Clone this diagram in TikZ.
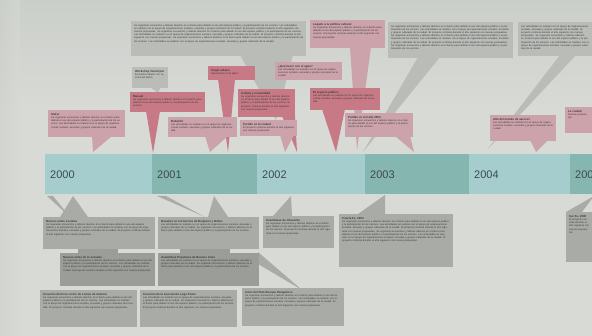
\documentclass[tikz,border=0pt]{standalone}
\usepackage{fontspec}
\setmainfont{Liberation Sans}
\definecolor{bgc}{HTML}{D8DAD6}
\definecolor{bgtop}{HTML}{CBCFCA}
\definecolor{redc}{HTML}{C77A86}
\definecolor{pinkc}{HTML}{CCA3AB}
\definecolor{grayc}{HTML}{BABCB8}
\definecolor{grayb}{HTML}{A9ABA7}
\definecolor{graybb}{HTML}{9B9D99}
\definecolor{tealA}{HTML}{A6CDCE}
\definecolor{tealB}{HTML}{86B6B0}
\definecolor{txtc}{HTML}{3A3A3A}
\definecolor{yearc}{HTML}{3C4B4C}
\newcommand\tinyf{\fontsize{2.5}{3.2}\selectfont}
\newcommand\ttl[1]{{\fontsize{2.9}{3.7}\selectfont\bfseries #1}\par}
\newcommand\tlbox[7]{%
  \node[fill=#6, inner sep=0, anchor=north west, minimum width=#4pt, minimum height=#5pt] (#1) at (#2,#3) {};
  \pgfmathsetlengthmacro\tlw{(#4-6)*1pt}%
  \node[anchor=north west, inner sep=0, text width=\tlw, align=left, font=\tinyf, text=txtc] (#1t) at ([xshift=3pt,yshift=-3pt]#1.north west) {#7};%
}
\newcommand\fa{Se organizan encuentros y talleres abiertos en el barrio para debatir el uso del espacio p\'ublico y la participaci\'on de los vecinos. }
\newcommand\fb{Las actividades se realizan con el apoyo de organizaciones sociales, escuelas y grupos culturales de la ciudad. }
\newcommand\fc{El proyecto contin\'ua durante el a\~no siguiente con nuevas propuestas. }
\begin{document}
\begin{tikzpicture}[x=1pt,y=-1pt]
\useasboundingbox (0,0) rectangle (592,336);
\clip (0,0) rectangle (592,336);
\shade[top color=bgtop, bottom color=bgc] (0,0) rectangle (592,110);
\fill[bgc] (0,110) rectangle (592,336);
\shade[left color=bgtop, right color=bgc, opacity=0.5] (0,0) rectangle (20,336);

% ---------- top pointers ----------
\fill[grayc] (240,55) -- (293,55) -- (276,120) -- cycle;
\fill[grayc] (418,57) -- (440,57) -- (363,152) -- cycle;
\fill[grayc] (560,55) -- (576,55) -- (487,150) -- cycle;
\fill[pinkc] (350,47) -- (371,47) -- (357,150) -- cycle;
\fill[pinkc] (92,136) -- (112,136) -- (93,152) -- cycle;
\fill[redc] (146,111) -- (160,111) -- (153,153) -- cycle;
\fill[redc] (218,79) -- (235,79) -- (228,152) -- cycle;
\fill[pinkc] (205,136) -- (228,136) -- (210,152) -- cycle;
\fill[redc] (282,116) -- (295,116) -- (297,152) -- cycle;
\fill[pinkc] (280,135) -- (294,135) -- (285,152) -- cycle;
\fill[redc] (322,109) -- (345,109) -- (336,152) -- cycle;
\fill[pinkc] (395,136) -- (410,136) -- (414,152) -- cycle;
\fill[pinkc] (530,140) -- (548,140) -- (536,152) -- cycle;
\fill[grayc] (150,87) -- (161,87) -- (158,93) -- cycle;

% ---------- top boxes ----------
\tlbox{t1}{131}{21}{175}{35}{grayc}{\fa\fb\fc\fa\fb\fc\fa\fb}
\tlbox{t2}{132}{67}{36}{21}{grayc}{\ttl{Workshop municipal}Encuentro abierto con vecinos del barrio.}
\tlbox{t3}{130}{92}{75}{20}{redc}{\ttl{Manual}\fa}
\tlbox{t4}{48}{110}{77}{27}{pinkc}{\ttl{Saber}\fa\fb}
\tlbox{t5}{208}{66}{47}{14}{redc}{\ttl{\'Angel urbano}Intervenci\'on en la plaza.}
\tlbox{t6}{275}{62}{67}{18}{pinkc}{\ttl{?`Qu\'e hacer con el agua?}\fb}
\tlbox{t7}{238}{89}{57}{28}{redc}{\ttl{Cultura y comunidad}\fa\fc}
\tlbox{t8}{168}{117}{69}{20}{pinkc}{\ttl{Rebeli\'on}\fb}
\tlbox{t9}{240}{120}{57}{16}{pinkc}{\ttl{Partido en la ciudad}\fc}
\tlbox{t10}{310}{20}{75}{28}{pinkc}{\ttl{Legado a la pol\'itica cultural}\fa\fc}
\tlbox{t11}{310}{88}{70}{22}{redc}{\ttl{El espacio p\'ublico}\fb}
\tlbox{t12}{345}{113}{68}{24}{pinkc}{\ttl{Partido en la Calle 2003}\fa}
\tlbox{t13}{388}{22}{125}{36}{grayc}{\fa\fb\fc\fa\fb\fc\fa}
\tlbox{t14}{518}{22}{74}{34}{grayc}{\fb\fc\fa\fb}
\tlbox{t15}{490}{115}{66}{26}{pinkc}{\ttl{Alta del mundo de aerosol}\fb}
\tlbox{t16}{565}{107}{27}{26}{pinkc}{\ttl{La ciudad}Nuevas propuestas.}

% ---------- timeline bar ----------
\node[fill=tealA, inner sep=0, anchor=north west, minimum width=107pt, minimum height=40pt] (y0) at (45,154) {};
\node[fill=tealB, inner sep=0, anchor=north west, minimum width=105pt, minimum height=40pt] (y1) at (152,154) {};
\node[fill=tealA, inner sep=0, anchor=north west, minimum width=108pt, minimum height=40pt] (y2) at (257,154) {};
\node[fill=tealB, inner sep=0, anchor=north west, minimum width=104pt, minimum height=40pt] (y3) at (365,154) {};
\node[fill=tealA, inner sep=0, anchor=north west, minimum width=101pt, minimum height=40pt] (y4) at (469,154) {};
\node[fill=tealB, inner sep=0, anchor=north west, minimum width=30pt, minimum height=40pt] (y5) at (570,154) {};
\foreach \n/\yr in {y0/2000,y1/2001,y2/2002,y3/2003,y4/2004,y5/2005}
  \node[anchor=west, inner sep=0, text=yearc, font=\fontsize{11}{12}\selectfont] (\n l) at ([xshift=5pt,yshift=-1pt]\n.west) {\yr};

% ---------- bottom pointers ----------
\fill[grayb] (47,196) -- (53,196) -- (70,217) -- cycle;
\fill[grayb] (60,217) -- (88,217) -- (73,196) -- cycle;
\fill[grayb] (157,196) -- (166,196) -- (205,217) -- cycle;
\fill[grayb] (208,217) -- (228,217) -- (214,196) -- cycle;
\fill[grayb] (273,216) -- (292,216) -- (291,196) -- cycle;
\fill[grayb] (358,214) -- (385,214) -- (385,195) -- cycle;
\fill[grayb] (566,212) -- (582,212) -- (594,196) -- cycle;
\fill[graybb] (78,248) rectangle (118,254);
\fill[graybb] (180,248) rectangle (230,254);
\fill[grayb] (258,252) -- (258,264) -- (302,290) -- cycle;

% ---------- bottom boxes ----------
\tlbox{ba}{43}{217}{112}{32}{grayb}{\ttl{Nuevos entes sociales}\fa\fb\fc}
\tlbox{bb}{158}{217}{101}{32}{grayb}{\ttl{Desalojo en los barrios de Belgrano y N\'u\~nez}\fb\fa}
\tlbox{bc}{263}{216}{71}{32}{grayb}{\ttl{Asambleas de Chacarita}\fa\fc}
\tlbox{bd}{339}{214}{114}{53}{grayb}{\ttl{Cuarta Fe, 2003}\fa\fb\fc\fa\fb\fc}
\tlbox{be}{566}{212}{26}{50}{grayb}{\ttl{Sur Fe, 2005}\fc}
\tlbox{bf}{60}{253}{95}{33}{graybb}{\ttl{Nuevos entes de lo sociales}\fa\fb\fc}
\tlbox{bg}{158}{253}{101}{33}{graybb}{\ttl{Asambleas Populares de Buenos Aires}\fb\fa}
\tlbox{bh}{40}{290}{97}{37}{grayb}{\ttl{Creaci\'on del Foro c\'ivico de Lomas de Zamora}\fa\fb\fc}
\tlbox{bi}{140}{290}{97}{37}{grayb}{\ttl{Creaci\'on de la Asociaci\'on Lago Puelo}\fb\fa\fc}
\tlbox{bj}{242}{288}{102}{38}{grayb}{\ttl{Inicio del Plan Bosque Patag\'onico}\fa\fb\fc}
\end{tikzpicture}
\end{document}
